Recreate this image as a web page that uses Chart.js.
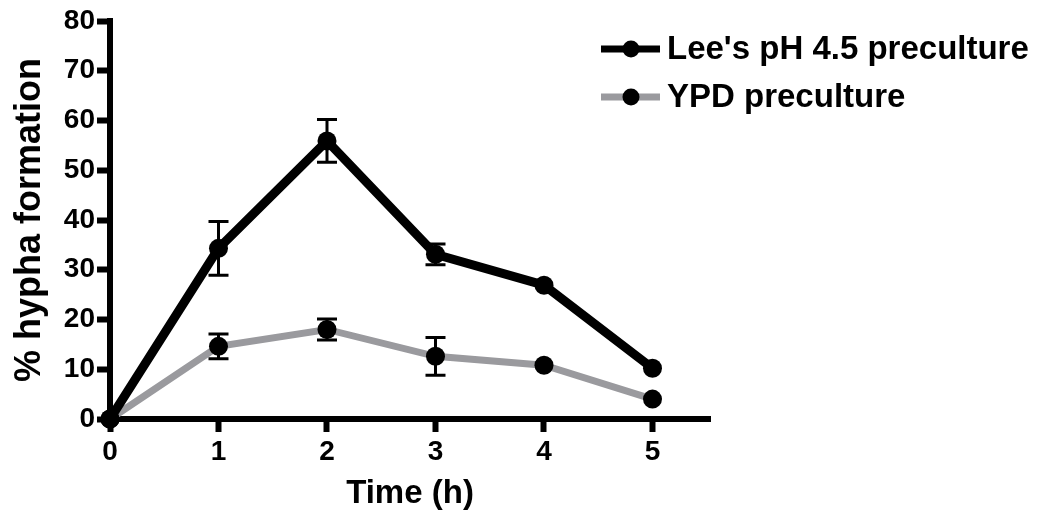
<!DOCTYPE html>
<html>
<head>
<meta charset="utf-8">
<script src="https://cdn.jsdelivr.net/npm/chart.js@4.4.1/dist/chart.umd.min.js"></script>
<style>
  html, body { margin: 0; padding: 0; background: #fff; }
  #wrap { width: 1040px; height: 520px; position: relative; }
</style>
</head>
<body>
<div id="wrap"><canvas id="c" width="1040" height="520"></canvas></div>
<script>
const timePoints = [0, 1, 2, 3, 4, 5];
const leeLabel = "Lee's pH 4.5 preculture";
const leeMean = [0, 34.3, 55.9, 33.1, 26.9, 10.2];
const leeErr  = [0, 5.4, 4.3, 2.1, 0, 0];
const ypdLabel = "YPD preculture";
const ypdMean = [0, 14.6, 18.0, 12.6, 10.8, 4.0];
const ypdErr  = [0, 2.5, 2.1, 3.8, 0, 0];
const xTickValues = [0, 1, 2, 3, 4, 5];
const yTickValues = [0, 10, 20, 30, 40, 50, 60, 70, 80];
const xTitle = 'Time (h)';
const yTitle = '% hypha formation';

const FONT = "'Liberation Sans', Arial, sans-serif";
const GRAY = '#9a9a9e';

const errorBars = {
  id: 'errorBars',
  afterDatasetsDraw(chart) {
    const ctx = chart.ctx;
    const ys = chart.scales.y;
    chart.data.datasets.forEach((ds, i) => {
      const meta = chart.getDatasetMeta(i);
      const errs = ds.errors || [];
      meta.data.forEach((pt, j) => {
        const e = errs[j];
        if (!e) return;
        const v = ds.data[j].y;
        const yTop = ys.getPixelForValue(v + e);
        const yBot = ys.getPixelForValue(v - e);
        const x = pt.x;
        ctx.save();
        ctx.strokeStyle = '#000';
        ctx.lineWidth = 3;
        ctx.beginPath();
        ctx.moveTo(x, yTop); ctx.lineTo(x, yBot);
        ctx.moveTo(x - 10, yTop); ctx.lineTo(x + 10, yTop);
        ctx.moveTo(x - 10, yBot); ctx.lineTo(x + 10, yBot);
        ctx.stroke();
        ctx.restore();
      });
    });
  }
};

const customLegend = {
  id: 'customLegend',
  afterDraw(chart) {
    const ctx = chart.ctx;
    const rows = [49, 97];
    chart.data.datasets.forEach((ds, i) => {
      const y = rows[i];
      ctx.save();
      ctx.strokeStyle = ds.borderColor;
      ctx.lineWidth = 7;
      ctx.beginPath();
      ctx.moveTo(601, y); ctx.lineTo(660, y);
      ctx.stroke();
      ctx.fillStyle = '#000';
      ctx.beginPath();
      ctx.arc(631, y, 8.5, 0, Math.PI * 2);
      ctx.fill();
      ctx.font = "bold 33px " + FONT;
      ctx.textBaseline = 'middle';
      ctx.textAlign = 'left';
      ctx.fillText(ds.label, 667, y + 1);
      ctx.restore();
    });
  }
};

const toPoints = (xs, ys) => xs.map((x, k) => ({ x: x, y: ys[k] }));

new Chart(document.getElementById('c'), {
  type: 'line',
  data: {
    datasets: [
      {
        label: leeLabel,
        data: toPoints(timePoints, leeMean),
        errors: leeErr,
        borderColor: '#000',
        backgroundColor: '#000',
        borderWidth: 9,
        pointRadius: 9.5,
        pointBackgroundColor: '#000',
        pointBorderWidth: 0,
        tension: 0,
        clip: false
      },
      {
        label: ypdLabel,
        data: toPoints(timePoints, ypdMean),
        errors: ypdErr,
        borderColor: GRAY,
        backgroundColor: '#000',
        borderWidth: 7,
        pointRadius: 9.5,
        pointBackgroundColor: '#000',
        pointBorderWidth: 0,
        tension: 0,
        clip: false
      }
    ]
  },
  options: {
    responsive: false,
    animation: false,
    layout: { padding: { top: 21, right: 330, left: 0, bottom: 0 } },
    plugins: { legend: { display: false }, tooltip: { enabled: false } },
    scales: {
      x: {
        type: 'linear',
        min: 0,
        max: 5.53,
        afterBuildTicks: s => { s.ticks = xTickValues.map(v => ({ value: v })); },
        afterFit: s => { s.height = 101; },
        ticks: { color: '#000', font: { family: FONT, size: 28, weight: 'bold' }, padding: 3, maxRotation: 0 },
        grid: { drawOnChartArea: false, drawTicks: true, tickLength: 13, tickWidth: 6, tickColor: '#000' },
        border: { color: '#000', width: 6 },
        title: { display: true, text: xTitle, color: '#000', font: { family: FONT, size: 33, weight: 'bold' }, padding: { top: 0, bottom: 6 } }
      },
      y: {
        type: 'linear',
        min: 0,
        max: 80,
        afterBuildTicks: s => { s.ticks = yTickValues.map(v => ({ value: v })); },
        afterFit: s => { s.width = 110; },
        ticks: { color: '#000', font: { family: FONT, size: 28, weight: 'bold' }, padding: 2 },
        grid: { drawOnChartArea: false, drawTicks: true, tickLength: 13, tickWidth: 6, tickColor: '#000' },
        border: { color: '#000', width: 6 },
        title: { display: true, text: yTitle, color: '#000', font: { family: FONT, size: 36, weight: 'bold' }, padding: { top: 8, bottom: 0 } }
      }
    }
  },
  plugins: [errorBars, customLegend]
});
</script>
</body>
</html>
